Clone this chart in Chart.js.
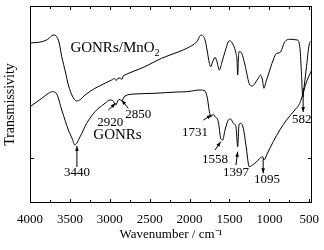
<!DOCTYPE html>
<html>
<head>
<meta charset="utf-8">
<script src="https://cdn.jsdelivr.net/npm/chart.js@4.4.0/dist/chart.umd.min.js"></script>
<style>
  html, body { margin: 0; padding: 0; background: #fff; }
  #wrap { width: 324px; height: 250px; }
</style>
</head>
<body>
<div id="wrap"><canvas id="ftir"></canvas></div>
<script>
// wavenumber (cm-1) and transmissivity (arbitrary units)
var wnUpper = [4000, 3852, 3781, 3706, 3665, 3637, 3602, 3556, 3519, 3469, 3415, 3369, 3310, 3185, 2977, 2944, 2919, 2900, 2869, 2850, 2831, 2810, 2560, 2352, 2244, 2144, 2035, 1910, 1856, 1806, 1781, 1752, 1735, 1712, 1681, 1656, 1627, 1594, 1556, 1502, 1452, 1419, 1406, 1397, 1388, 1381, 1347, 1306, 1244, 1212, 1181, 1140, 1110, 1087, 1069, 1044, 1015, 952, 910, 869, 806, 744, 652, 619, 600, 582, 562, 535, 502, 470]
var tUpper = [160, 161.3, 163.5, 168, 166.3, 161, 146.3, 131, 118, 107, 102, 103.5, 108, 114.7, 123, 124.5, 122.5, 124.5, 125, 123.5, 127, 128, 136.3, 144.7, 148, 151, 154.7, 161.3, 168, 163, 153, 139.7, 136.3, 141, 145.7, 141, 133, 141, 151.3, 162.3, 158, 149.7, 143, 128, 145, 151.3, 149.7, 138, 118, 117, 119.7, 124.7, 128, 123, 114.7, 121, 128, 143, 149.7, 150.3, 161.3, 163.7, 163, 156.3, 133, 106, 118, 136.3, 158, 162.3]

var wnLower = [4000, 3852, 3769, 3719, 3665, 3602, 3519, 3469, 3438, 3372, 3290, 3185, 3060, 2997, 2962, 2927, 2885, 2852, 2810, 2685, 2435, 2165, 2035, 1869, 1806, 1777, 1752, 1735, 1702, 1681, 1640, 1610, 1585, 1556, 1515, 1485, 1452, 1419, 1397, 1381, 1360, 1327, 1294, 1252, 1222, 1169, 1119, 1085, 1065, 1035, 952, 869, 785, 681, 619, 581, 535, 470]
var tLower = [96.3, 104.7, 109.7, 111.3, 109, 93, 73, 64, 58, 66.3, 79.7, 91.3, 99.7, 103, 102.5, 98, 103.7, 102.3, 107, 109, 109.7, 111, 111.3, 113, 112, 104.7, 91.3, 86.3, 88.7, 86.3, 81.3, 64.7, 63, 73, 83, 84, 79.7, 76.3, 56.3, 78, 79.7, 74.7, 58, 36.3, 37.3, 40.7, 44.7, 46.3, 43, 48, 61.3, 73, 83, 93, 99.7, 109, 121, 133]

var xTickValues = [4000, 3500, 3000, 2500, 2000, 1500, 1000, 500]
var xMinorValues = [3750, 3250, 2750, 2250, 1750, 1250, 750]
var yTickValues = [45]

// peak labels: text, wavenumber, transmissivity
var peakText = ['3440', '2920', '2850', '1731', '1558', '1397', '1095', '582']
var peakWn = [3410, 2994, 2644, 1931, 1681, 1419, 1031, 594]
var peakT = [30, 80, 88, 70, 43, 30, 23, 83]

// arrows: start -> tip (head at tip)
var arrowFromWn = [3412, 3019, 2769, 1827, 1681, 1419, 1078, 577]
var arrowFromT = [36, 93, 94.7, 83, 53, 38, 44.7, 115]
var arrowToWn = [3412, 2927, 2852, 1722, 1610, 1397, 1078, 577]
var arrowToT = [57, 99.7, 103, 88, 61.3, 51.3, 29.7, 91]

var serif = '"Liberation Serif", "Times New Roman", serif'

function toPoints(xs, ys) {
    return xs.map(function(v, i) { return {x: v, y: ys[i]}; });
}

var decor = {
    id: 'decor',
    afterDatasetsDraw: function(chart) {
        var ctx = chart.ctx;
        var a = chart.chartArea;
        var x = chart.scales.x;
        var y = chart.scales.y;
        ctx.save();
        ctx.strokeStyle = '#000';
        ctx.fillStyle = '#000';
        ctx.lineWidth = 1;
        ctx.strokeRect(Math.round(a.left) + 0.5, Math.round(a.top) + 0.5,
            Math.round(a.right - a.left) - 1, Math.round(a.bottom - a.top) - 1);

        // inward ticks, top and bottom
        function xTick(v, len) {
            var px = Math.round(x.getPixelForValue(v)) + 0.5;
            ctx.beginPath();
            ctx.moveTo(px, a.bottom); ctx.lineTo(px, a.bottom - len);
            ctx.moveTo(px, a.top); ctx.lineTo(px, a.top + len);
            ctx.stroke();
        }
        xTickValues.forEach(function(v) { xTick(v, 4); });
        xMinorValues.forEach(function(v) { xTick(v, 3); });
        yTickValues.forEach(function(v) {
            var py = Math.round(y.getPixelForValue(v)) + 0.5;
            ctx.beginPath();
            ctx.moveTo(a.left, py); ctx.lineTo(a.left + 4, py);
            ctx.moveTo(a.right, py); ctx.lineTo(a.right - 4, py);
            ctx.stroke();
        });

        // arrows
        arrowFromWn.forEach(function(w, i) {
            var x0 = x.getPixelForValue(w), y0 = y.getPixelForValue(arrowFromT[i]);
            var x1 = x.getPixelForValue(arrowToWn[i]), y1 = y.getPixelForValue(arrowToT[i]);
            var ang = Math.atan2(y1 - y0, x1 - x0);
            ctx.beginPath();
            ctx.moveTo(x0, y0); ctx.lineTo(x1, y1);
            ctx.stroke();
            ctx.beginPath();
            ctx.moveTo(x1, y1);
            ctx.lineTo(x1 - 5 * Math.cos(ang) + 1.8 * Math.sin(ang), y1 - 5 * Math.sin(ang) - 1.8 * Math.cos(ang));
            ctx.lineTo(x1 - 5 * Math.cos(ang) - 1.8 * Math.sin(ang), y1 - 5 * Math.sin(ang) + 1.8 * Math.cos(ang));
            ctx.closePath();
            ctx.fill();
        });

        // peak numbers
        ctx.font = '13px ' + serif;
        ctx.textAlign = 'center';
        ctx.textBaseline = 'middle';
        peakText.forEach(function(t, i) {
            ctx.fillText(t, x.getPixelForValue(peakWn[i]), y.getPixelForValue(peakT[i]));
        });

        // series names
        ctx.font = '15px ' + serif;
        ctx.textAlign = 'left';
        var gx = x.getPixelForValue(3494), gy = y.getPixelForValue(155);
        ctx.fillText('GONRs/MnO', gx, gy);
        var w = ctx.measureText('GONRs/MnO').width;
        ctx.font = '10px ' + serif;
        ctx.fillText('2', gx + w, gy + 5);
        ctx.font = '15px ' + serif;
        ctx.fillText('GONRs', x.getPixelForValue(3206), y.getPixelForValue(68));
        ctx.restore();
    }
};

var chart = new Chart(document.getElementById('ftir'), {
    type: 'scatter',
    data: {
        datasets: [{
            label: 'GONRs/MnO2',
            data: toPoints(wnUpper, tUpper),
            showLine: true,
            borderColor: '#000',
            borderWidth: 1,
            pointRadius: 0,
            cubicInterpolationMode: 'monotone'
        }, {
            label: 'GONRs',
            data: toPoints(wnLower, tLower),
            showLine: true,
            borderColor: '#000',
            borderWidth: 1,
            pointRadius: 0,
            cubicInterpolationMode: 'monotone'
        }]
    },
    options: {
        responsive: true,
        maintainAspectRatio: false,
        animation: false,
        layout: { padding: { top: 6, right: 12, left: 0, bottom: 0 } },
        plugins: { legend: { display: false }, tooltip: { enabled: false } },
        scales: {
            x: {
                type: 'linear',
                reverse: true,
                min: 466,
                max: 4000,
                grid: { display: false },
                border: { display: false },
                afterBuildTicks: function(scale) {
                    scale.ticks = xTickValues.map(function(v) { return {value: v}; });
                },
                afterFit: function(scale) { scale.height = 47; },
                ticks: {
                    color: '#000',
                    padding: 1,
                    maxRotation: 0,
                    font: { family: serif, size: 13 },
                    callback: function(value) { return String(value); }
                },
                title: {
                    display: true,
                    text: 'Wavenumber / cm\u207B\u00B9',
                    color: '#000',
                    padding: { top: 0, bottom: 8 },
                    font: { family: serif, size: 13 }
                }
            },
            y: {
                min: 0,
                max: 197,
                grid: { display: false },
                border: { display: false },
                ticks: { display: false },
                afterFit: function(scale) { scale.width = 30; },
                title: {
                    display: true,
                    text: 'Transmissivity',
                    color: '#000',
                    padding: { top: 2, bottom: 0 },
                    font: { family: serif, size: 14 }
                }
            }
        }
    },
    plugins: [decor]
});
</script>
</body>
</html>
